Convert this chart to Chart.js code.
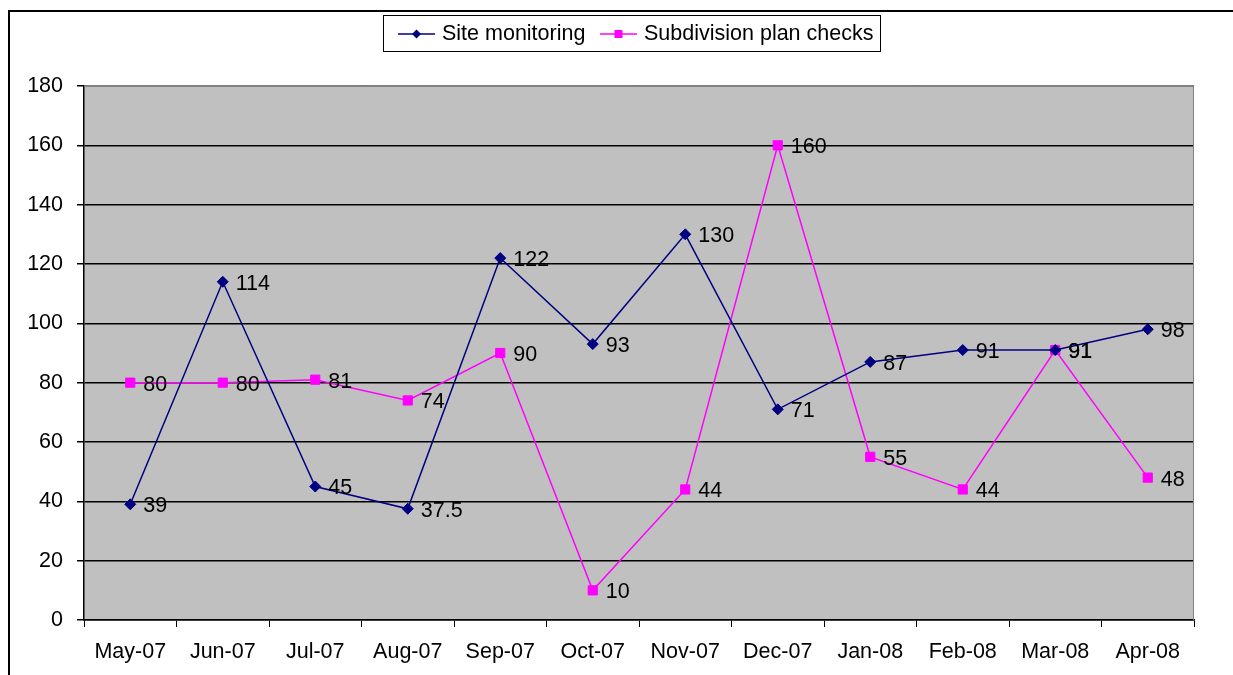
<!DOCTYPE html>
<html>
<head>
<meta charset="utf-8">
<script src="https://cdn.jsdelivr.net/npm/chart.js@4"></script>
<style>
  html, body { margin: 0; padding: 0; background: #fff; }
  #wrap { width: 1233px; height: 675px; }
</style>
</head>
<body>
<div id="wrap"><canvas id="chart" width="1233" height="675"></canvas></div>
<script>
const months = ["May-07", "Jun-07", "Jul-07", "Aug-07", "Sep-07", "Oct-07", "Nov-07", "Dec-07", "Jan-08", "Feb-08", "Mar-08", "Apr-08"];
const siteMonitoring = [39, 114, 45, 37.5, 122, 93, 130, 71, 87, 91, 91, 98];
const subdivisionChecks = [80, 80, 81, 74, 90, 10, 44, 160, 55, 44, 91, 48];

const FONT = "Liberation Sans, Arial, sans-serif";
const SIZE = 21.5;

// gray plot area, outer frame, right/top border
const framePlugin = {
  id: "frame",
  beforeDraw(chart) {
    const c = chart.ctx;
    const a = chart.chartArea;
    c.save();
    c.fillStyle = "#fff";
    c.fillRect(0, 0, chart.width, chart.height);
    c.fillStyle = "#c0c0c0";
    c.fillRect(a.left, a.top, a.right - a.left, a.bottom - a.top);
    c.strokeStyle = "#000";
    c.lineWidth = 2;
    c.beginPath();
    c.moveTo(9, chart.height + 5);
    c.lineTo(9, 11);
    c.lineTo(chart.width + 5, 11);
    c.stroke();
    c.restore();
  },
  beforeDatasetsDraw(chart) {
    const c = chart.ctx;
    const a = chart.chartArea;
    c.save();
    c.strokeStyle = "#808080";
    c.lineWidth = 1;
    c.beginPath();
    c.moveTo(a.left, a.top + 0.5);
    c.lineTo(a.right - 0.5, a.top + 0.5);
    c.lineTo(a.right - 0.5, a.bottom);
    c.stroke();
    c.restore();
  }
};

// value labels right of each point + legend box
const labelPlugin = {
  id: "labels",
  afterDatasetsDraw(chart) {
    const c = chart.ctx;
    c.save();
    c.font = SIZE + "px " + FONT;
    c.fillStyle = "#000";
    c.textBaseline = "middle";
    c.textAlign = "left";
    chart.data.datasets.forEach((ds, i) => {
      chart.getDatasetMeta(i).data.forEach((pt, j) => {
        c.fillText(String(ds.data[j]), pt.x + 13, pt.y + 2);
      });
    });
    c.restore();
  },
  afterDraw(chart) {
    const c = chart.ctx;
    c.save();
    c.fillStyle = "#fff";
    c.fillRect(383, 15, 497, 36);
    c.strokeStyle = "#000";
    c.lineWidth = 1;
    c.strokeRect(383.5, 15.5, 497, 36);
    c.font = SIZE + "px " + FONT;
    c.textBaseline = "middle";
    c.fillStyle = "#000";
    const items = [
      { x: 398, ds: chart.data.datasets[0] },
      { x: 600, ds: chart.data.datasets[1] }
    ];
    items.forEach((it) => {
      const y = 34;
      c.strokeStyle = it.ds.borderColor;
      c.lineWidth = 1.5;
      c.beginPath();
      c.moveTo(it.x, y);
      c.lineTo(it.x + 37, y);
      c.stroke();
      c.fillStyle = it.ds.borderColor;
      c.beginPath();
      const mx = it.x + 18.5;
      if (it.ds.pointStyle === "rectRot") {
        c.moveTo(mx, y - 4.5);
        c.lineTo(mx + 4.5, y);
        c.lineTo(mx, y + 4.5);
        c.lineTo(mx - 4.5, y);
        c.closePath();
      } else {
        c.rect(mx - 4, y - 4, 8, 8);
      }
      c.fill();
      c.fillStyle = "#000";
      c.fillText(it.ds.label, it.x + 44, y);
    });
    c.restore();
  }
};

new Chart(document.getElementById("chart").getContext("2d"), {
  type: "line",
  data: {
    labels: months,
    datasets: [
      {
        label: "Site monitoring",
        data: siteMonitoring,
        borderColor: "#000080",
        backgroundColor: "#000080",
        borderWidth: 1.5,
        pointStyle: "rectRot",
        pointRadius: 5.5,
        pointBorderWidth: 1,
        tension: 0
      },
      {
        label: "Subdivision plan checks",
        data: subdivisionChecks,
        borderColor: "#ff00ff",
        backgroundColor: "#ff00ff",
        borderWidth: 1.5,
        pointStyle: "rect",
        pointRadius: 6.5,
        pointBorderWidth: 1,
        tension: 0
      }
    ]
  },
  options: {
    responsive: false,
    animation: false,
    layout: { padding: { left: 0, top: 86, right: 39, bottom: 0 } },
    plugins: {
      legend: { display: false },
      tooltip: { enabled: false }
    },
    scales: {
      x: {
        offset: true,
        grid: {
          offset: true,
          drawOnChartArea: false,
          drawTicks: true,
          tickLength: 7,
          tickColor: "#000",
          tickWidth: 1
        },
        border: { color: "#000", width: 1.5 },
        ticks: {
          color: "#000",
          font: { family: FONT, size: SIZE },
          padding: 12,
          maxRotation: 0,
          autoSkip: false
        },
        afterFit(s) { s.height = 55; }
      },
      y: {
        min: 0,
        max: 180,
        ticks: {
          stepSize: 20,
          color: "#000",
          font: { family: FONT, size: SIZE },
          padding: 14
        },
        grid: {
          color: (ctx) => (ctx.tick && ctx.tick.value === 180 ? "#808080" : "#000"),
          lineWidth: 1.5,
          tickLength: 7,
          tickColor: "#000"
        },
        border: { color: "#000", width: 1.5 },
        afterFit(s) { s.width = 84; }
      }
    }
  },
  plugins: [framePlugin, labelPlugin]
});
</script>
</body>
</html>
